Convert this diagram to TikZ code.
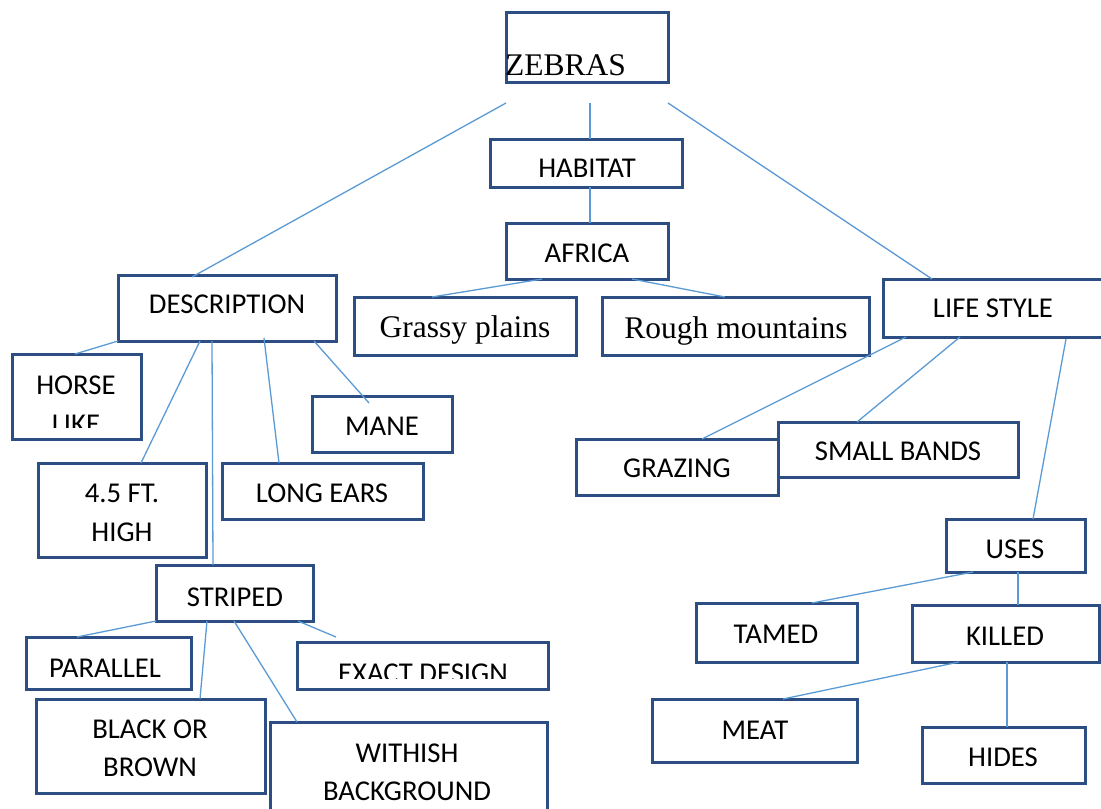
\documentclass[tikz,border=0pt]{standalone}
\usepackage{fontspec}
\setmainfont{Carlito}
\newfontfamily\tnr{Liberation Serif}
\definecolor{boxblue}{RGB}{44,78,130}
\definecolor{linkblue}{RGB}{91,155,213}
\tikzset{
  box/.style={draw=boxblue, line width=3pt, inner sep=0pt, outer sep=0pt},
  conn/.style={draw=linkblue, line width=1.3pt},
  txt/.style={inner sep=0pt, anchor=base, font=\fontsize{28.7}{38}\selectfont, text=black},
  serif/.style={inner sep=0pt, anchor=base, font=\tnr\fontsize{31.5}{38}\selectfont, text=black},
}
\newcommand\mybox[5]{\node[box, minimum width={(#4-#2)*1pt}, minimum height={(#5-#3)*1pt}] (#1) at ({(#2+#4)/2},{(#3+#5)/2}) {};}
\begin{document}
\begin{tikzpicture}[x=1pt,y=-1pt]
\clip (0,0) rectangle (1101,809);
\fill[white] (0,0) rectangle (1101,809);
% boxes
\mybox{zeb}{506}{12}{668}{82}
\mybox{hab}{490}{139}{682}{187}
\mybox{afr}{506}{223}{668}{279}
\mybox{desc}{118}{275}{336}{341}
\mybox{grassy}{354}{297}{576}{355}
\mybox{rough}{602}{297}{869}{355}
\mybox{life}{883}{279}{1112}{337}
\mybox{horse}{12}{354}{141}{439}
\mybox{mane}{312}{396}{452}{452}
\mybox{ft}{38}{463}{206}{557}
\mybox{ears}{222}{463}{423}{519}
\mybox{striped}{156}{565}{313}{621}
\mybox{parallel}{26}{637}{191}{689}
\mybox{exact}{297}{642}{548}{689}
\mybox{black}{36}{699}{265}{793}
\mybox{withish}{270}{722}{547}{830}
\mybox{grazing}{576}{439}{778}{495}
\mybox{bands}{778}{422}{1018}{477}
\mybox{uses}{946}{519}{1085}{572}
\mybox{tamed}{696}{603}{857}{662}
\mybox{killed}{912}{605}{1099}{662}
\mybox{meat}{652}{699}{857}{762}
\mybox{hides}{922}{727}{1085}{783}
% texts
\node[serif, anchor=base west] (tzeb) at (505,75) {ZEBRAS};
\node[txt] (thab) at (587,177) {HABITAT};
\node[txt] (tafr) at (587,262) {AFRICA};
\node[txt] (tdesc) at (227,313) {DESCRIPTION};
\node[serif] (tgrassy) at (465,337) {Grassy plains};
\node[serif] (trough) at (736,338) {Rough mountains};
\node[txt] (tlife) at (993,317) {LIFE STYLE};
\node[txt] (thorse) at (76,394) {HORSE};
\begin{scope}
\clip (12,355) rectangle (141,427);
\node[txt] (tlike) at (76,433) {LIKE};
\end{scope}
\node[txt] (tmane) at (382,435) {MANE};
\node[txt] (tft) at (122,502) {4.5 FT.};
\node[txt] (thigh) at (122,541) {HIGH};
\node[txt] (tears) at (322,502) {LONG EARS};
\node[txt] (tstriped) at (235,606) {STRIPED};
\node[txt] (tparallel) at (105,677) {PARALLEL};
\begin{scope}
\clip (297,642) rectangle (548,678);
\node[txt] (texact) at (423,682) {EXACT DESIGN};
\end{scope}
\node[txt] (tblack) at (150,738) {BLACK OR};
\node[txt] (tbrown) at (150,776) {BROWN};
\node[txt] (twithish) at (407,762) {WITHISH};
\node[txt] (tbackground) at (407,800) {BACKGROUND};
\node[txt] (tgrazing) at (677,477) {GRAZING};
\node[txt] (tbands) at (898,460) {SMALL BANDS};
\node[txt] (tuses) at (1015,558) {USES};
\node[txt] (ttamed) at (776,643) {TAMED};
\node[txt] (tkilled) at (1005,645) {KILLED};
\node[txt] (tmeat) at (755,739) {MEAT};
\node[txt] (thides) at (1003,766) {HIDES};
% connectors
\draw[conn] ([shift={(0,21)}]zeb.south west) -- ([shift={(74,2)}]desc.north west);
\draw[conn] ([shift={(84,21)}]zeb.south west) -- ([shift={(100,0)}]hab.north west);
\draw[conn] ([shift={(0,21)}]zeb.south east) -- ([shift={(49,0)}]life.north west);
\draw[conn] ([shift={(100,0)}]hab.south west) -- ([shift={(84,0)}]afr.north west);
\draw[conn] ([shift={(36,0)}]afr.south west) -- ([shift={(78,0)}]grassy.north west);
\draw[conn] ([shift={(126,0)}]afr.south west) -- ([shift={(123,0)}]rough.north west);
\draw[conn] (desc.south west) -- ([shift={(63,0)}]horse.north west);
\draw[conn] ([shift={(82,0)}]desc.south west) -- ([shift={(103,0)}]ft.north west);
\draw[conn] ([shift={(94,0)}]desc.south west) -- ([shift={(57,0)}]striped.north west);
\draw[conn] ([shift={(146,-3)}]desc.south west) -- ([shift={(57,0)}]ears.north west);
\draw[conn] ([shift={(196,0)}]desc.south west) -- ([shift={(57,7)}]mane.north west);
\draw[conn] (striped.south west) -- ([shift={(51,0)}]parallel.north west);
\draw[conn] ([shift={(51,0)}]striped.south west) -- ([shift={(164,0)}]black.north west);
\draw[conn] ([shift={(78,0)}]striped.south west) -- ([shift={(27,0)}]withish.north west);
\draw[conn] ([shift={(142,0)}]striped.south west) -- ([shift={(39,-5)}]exact.north west);
\draw[conn] ([shift={(23,0)}]life.south west) -- ([shift={(126,0)}]grazing.north west);
\draw[conn] ([shift={(77,0)}]life.south west) -- ([shift={(79,0)}]bands.north west);
\draw[conn] ([shift={(183,2)}]life.south west) -- ([shift={(87,0)}]uses.north west);
\draw[conn] ([shift={(27,0)}]uses.south west) -- ([shift={(116,0)}]tamed.north west);
\draw[conn] ([shift={(72,0)}]uses.south west) -- ([shift={(106,0)}]killed.north west);
\draw[conn] ([shift={(47,0)}]killed.south west) -- ([shift={(131,0)}]meat.north west);
\draw[conn] ([shift={(95,0)}]killed.south west) -- ([shift={(85,0)}]hides.north west);
\end{tikzpicture}
\end{document}
